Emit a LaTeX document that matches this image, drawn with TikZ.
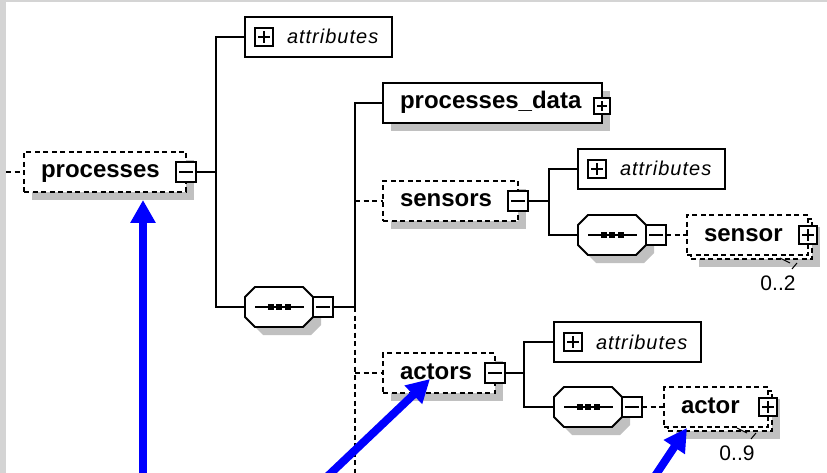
\documentclass[tikz,border=0pt]{standalone}
\usepackage{fontspec}
\setmainfont{Liberation Sans}
\newfontfamily\attrfont[LetterSpace=5]{Liberation Sans}
\usetikzlibrary{shadows,arrows.meta,calc}
\definecolor{shadowgray}{RGB}{192,192,192}
\definecolor{bggray}{RGB}{212,212,212}
\definecolor{arrowblue}{RGB}{0,0,255}
\newcommand\octpath[3]{($(#1.north west)+(10+#2,#3)$) -- ($(#1.north east)+(-10+#2,#3)$) -- ($(#1.north east)+(#2,10+#3)$) -- ($(#1.south east)+(#2,-10+#3)$) -- ($(#1.south east)+(-10+#2,#3)$) -- ($(#1.south west)+(10+#2,#3)$) -- ($(#1.south west)+(#2,-10+#3)$) -- ($(#1.north west)+(#2,10+#3)$) -- cycle}
\newcommand\seqdraw[1]{%
  \fill[shadowgray] \octpath{#1}{8}{8};
  \draw[boxline,fill=white] \octpath{#1}{0}{0};
  \draw[line width=1.8pt] ($(#1.west)+(10,0)$) -- ($(#1.east)+(-9,0)$);
  \foreach \d in {-8.5,0,8.5} \fill ($(#1.center)+(\d-3,-3)$) rectangle +(6,6);
}
\tikzset{
  boxline/.style={line width=1.8pt, draw=black},
  dashpat/.style={dash pattern=on 5pt off 3.5pt},
  conn/.style={line width=1.8pt, draw=black},
  shadowed/.style={drop shadow={shadow xshift=8pt, shadow yshift=-8pt, fill=shadowgray, opacity=1}},
  elembase/.style={boxline, fill=white, rectangle, minimum height=40pt, inner xsep=17pt, inner ysep=0pt, outer sep=0pt, align=left, text height=17pt, text depth=5pt, font=\fontsize{24}{24}\selectfont\bfseries},
  elembox/.style={elembase, shadowed},
  optbox/.style={elembase, dashpat, shadowed},
  optfront/.style={elembase, dashpat},
  optback/.style={boxline, dashpat, fill=white, rectangle, minimum height=40pt, inner sep=0pt, outer sep=0pt, shadowed},
  attrbox/.style={boxline, fill=white, rectangle, minimum width=147pt, minimum height=40pt, text width=127pt, inner xsep=10pt, inner ysep=0pt, outer sep=0pt, align=left, text height=16pt, text depth=2pt, font=\attrfont\fontsize{20}{20}\selectfont\itshape},
  seqnode/.style={rectangle, minimum width=68pt, minimum height=40pt, inner sep=0pt, outer sep=0pt},
  expbox/.style={draw=black, line width=1.5pt, fill=white, rectangle, minimum size=#1, inner sep=0pt, outer sep=0pt},
  minusbox/.style={expbox=#1, path picture={\draw[line width=1.5pt] ([xshift=3pt]path picture bounding box.west) -- ([xshift=-3pt]path picture bounding box.east);}},
  minusbox/.default=20pt,
  plusbox/.style={expbox=#1, path picture={\draw[line width=1.5pt] ([xshift=3pt]path picture bounding box.west) -- ([xshift=-3pt]path picture bounding box.east); \draw[line width=1.5pt] ([yshift=-3pt]path picture bounding box.north) -- ([yshift=3pt]path picture bounding box.south);}},
  plusbox/.default=18pt,
  multlbl/.style={font=\fontsize{21}{21}\selectfont, inner sep=0pt},
  tick/.style={line width=1pt, draw=black},
  bluearrow/.style={draw=arrowblue, line width=8pt, -{Triangle[length=23pt,width=24pt]}},
}
\begin{document}
\begin{tikzpicture}[x=1pt,y=-1pt]
\path[use as bounding box] (0,0) rectangle (827,473);
\clip (0,0) rectangle (827,473);
\fill[bggray] (0,0) rectangle (827,473);
\fill[white] (6,2) rectangle (827,473);

% element boxes
\node[optbox, text width=128pt] (proc) at (105,172) {processes};
\node[attrbox] (attr1) at (318.5,37) {\hspace*{32pt}attributes};
\node[seqnode] (seq1) at (279,307) {};
\node[elembox, text width=185pt] (pdata) at (492.5,103) {processes\_data};
\node[optbox, text width=101pt] (sens) at (450.5,201) {sensors};
\node[attrbox] (attr2) at (651.5,169) {\hspace*{32pt}attributes};
\node[seqnode] (seq2) at (612,235) {};
\node[optback, minimum width=121pt] (sensorback) at (751.5,239) {};
\node[optfront, text width=87pt] (sensor) at (747.5,235) {sensor};
\node[optbox, text width=78pt] (acts) at (439,373) {actors};
\node[attrbox] (attr3) at (627.5,342) {\hspace*{32pt}attributes};
\node[seqnode] (seq3) at (588,407) {};
\node[optback, minimum width=104pt] (actorback) at (720,411) {};
\node[optfront, text width=70pt] (actor) at (716,407) {actor};

% sequence compositors
\seqdraw{seq1}
\seqdraw{seq2}
\seqdraw{seq3}

% expand / collapse boxes
\node[minusbox] (procX) at (proc.east) {};
\node[plusbox] (attr1P) at ($(attr1.west)+(19,0)$) {};
\node[minusbox, anchor=west] (seq1X) at (seq1.east) {};
\node[plusbox=16pt] (pdataP) at ($(pdata.east)+(0,3)$) {};
\node[minusbox] (sensX) at (sens.east) {};
\node[plusbox] (attr2P) at ($(attr2.west)+(19,0)$) {};
\node[minusbox, anchor=west] (seq2X) at (seq2.east) {};
\node[plusbox] (sensorP) at (sensor.east) {};
\node[minusbox] (actsX) at (acts.east) {};
\node[plusbox] (attr3P) at ($(attr3.west)+(19,0)$) {};
\node[minusbox, anchor=west] (seq3X) at (seq3.east) {};
\node[plusbox] (actorP) at (actor.east) {};

% multiplicities
\node[multlbl] (m1) at (778,283) {0..2};
\node[multlbl] (m2) at (737,453) {0..9};
\draw[tick] (780,258) -- (790,263);
\draw[tick] (797,263) -- (792,269);
\draw[tick] (737,428) -- (747,433);
\draw[tick] (756,433) -- (751,439);

% connectors
\coordinate (procin) at (6,172);
\coordinate (bot) at (0,490);
\draw[conn, dashpat] (procin) -- (proc.west);
\draw[conn] (procX.east) -- ++(20,0) coordinate (j1) |- (attr1.west);
\draw[conn] (j1) |- (seq1.west);
\draw[conn] (seq1X.east) -- ++(22,0) coordinate (j2) |- (pdata.west);
\draw[conn, dashpat] (j2) -- (j2 |- bot);
\draw[conn, dashpat] (j2 |- sens.west) -- (sens.west);
\draw[conn, dashpat] (j2 |- acts.west) -- (acts.west);
\draw[conn] (sensX.east) -- ++(21,0) coordinate (j3) |- (attr2.west);
\draw[conn] (j3) |- (seq2.west);
\draw[conn, dashpat] (seq2X.east) -- (sensor.west);
\draw[conn] (actsX.east) -- ++(19,0) coordinate (j4) |- (attr3.west);
\draw[conn] (j4) |- (seq3.west);
\draw[conn, dashpat] (seq3X.east) -- (actor.west);

% blue arrows
\coordinate (a1s) at (143,490);
\coordinate (a1e) at (143,200);
\coordinate (a2s) at (312,491);
\coordinate (a2e) at (430,379);
\coordinate (a3s) at (645,491);
\coordinate (a3e) at (687,428);
\draw[bluearrow] (a1s) -- (a1e);
\draw[bluearrow] (a2s) -- (a2e);
\draw[bluearrow] (a3s) -- (a3e);
\end{tikzpicture}
\end{document}
